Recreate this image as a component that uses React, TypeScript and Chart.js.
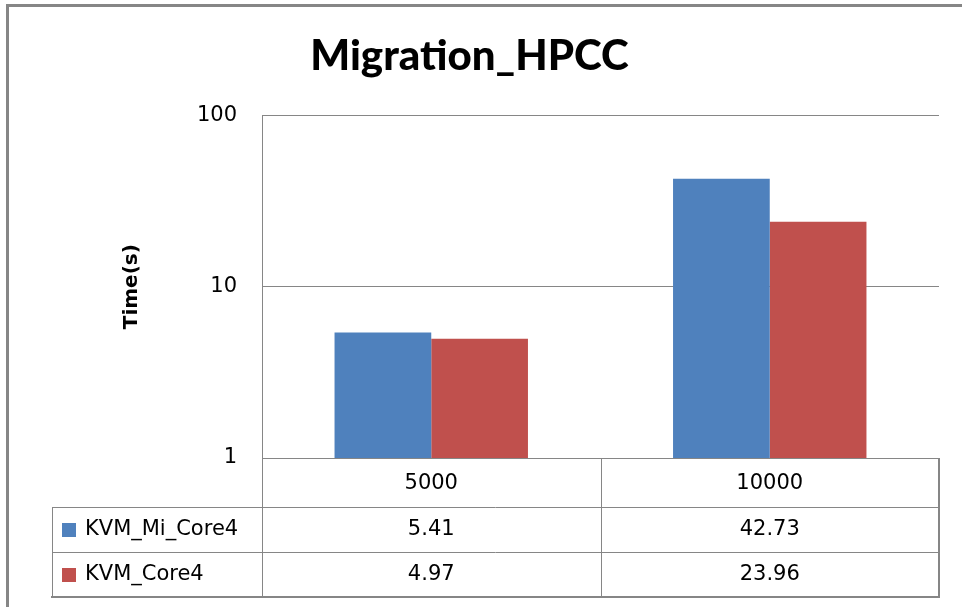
import React, { useEffect, useRef } from "react";
import { Chart, registerables } from "chart.js";

Chart.register(...registerables);

const title = "Migration_HPCC";
const yTitle = "Time(s)";
const categories = ["5000", "10000"];
const seriesNames = ["KVM_Mi_Core4", "KVM_Core4"];
const kvmMiCore4 = [5.41, 42.73];
const kvmCore4 = [4.97, 23.96];
const yTickValues = [1, 10, 100];
const seriesColors = ["#4F81BD", "#C0504D"];

const GRID = "#868686";
const TABLE_FONT = "21px 'DejaVu Sans'";

const framePlugin = {
  id: "frame",
  beforeDraw(chart: any) {
    const { ctx } = chart;
    ctx.save();
    ctx.fillStyle = "#ffffff";
    ctx.fillRect(0, 0, chart.width, chart.height);
    ctx.fillStyle = GRID;
    ctx.fillRect(6, 4, 3, chart.height - 4);
    ctx.fillRect(6, 4, chart.width - 6, 3);
    ctx.restore();
  },
};

const tablePlugin = {
  id: "dataTable",
  afterDraw(chart: any) {
    const { ctx, chartArea } = chart;
    const xs = chart.scales.x;
    const left = chartArea.left;
    const right = chartArea.right;
    const top = chartArea.bottom;
    const headerH = 49;
    const rowH = 45;
    const labelLeft = 52;
    const rows = [kvmMiCore4, kvmCore4];
    const bottom = top + headerH + rowH * rows.length;
    const half = (right - left) / categories.length / 2;

    ctx.save();
    ctx.strokeStyle = GRID;
    ctx.lineWidth = 1;
    const line = (x1: number, y1: number, x2: number, y2: number, w = 1) => {
      ctx.lineWidth = w;
      ctx.beginPath();
      ctx.moveTo(x1, y1);
      ctx.lineTo(x2, y2);
      ctx.stroke();
    };
    line(left, top + 0.5, right, top + 0.5);
    categories.forEach((_, i) => {
      const c = xs.getPixelForValue(i);
      line(Math.round(c - half) + 0.5, top, Math.round(c - half) + 0.5, bottom);
    });
    line(Math.round(right), top, Math.round(right), bottom + 1, 2);
    for (let r = 0; r < rows.length; r++) {
      const y = Math.round(top + headerH + rowH * r) + 0.5;
      line(labelLeft, y, right, y);
    }
    line(labelLeft - 1, bottom, right + 1, bottom, 2);
    line(labelLeft + 0.5, top + headerH, labelLeft + 0.5, bottom);

    ctx.fillStyle = "#000";
    ctx.font = TABLE_FONT;
    ctx.textBaseline = "middle";
    ctx.textAlign = "center";
    categories.forEach((cat, i) => {
      const c = xs.getPixelForValue(i);
      ctx.fillText(cat, c, top + headerH / 2 + 1);
    });
    rows.forEach((vals, r) => {
      const yc = top + headerH + rowH * r + rowH / 2;
      vals.forEach((v, i) => {
        const c = xs.getPixelForValue(i);
        ctx.textAlign = "center";
        ctx.fillStyle = "#000";
        ctx.fillText(v.toFixed(2), c, yc);
      });
      ctx.fillStyle = seriesColors[r];
      ctx.fillRect(labelLeft + 10, Math.round(yc - 7), 14, 14);
      ctx.fillStyle = "#000";
      ctx.textAlign = "left";
      ctx.fillText(seriesNames[r], labelLeft + 33, yc);
    });
    ctx.restore();
  },
};

export default function App() {
  const ref = useRef<HTMLCanvasElement | null>(null);

  useEffect(() => {
    document.body.style.margin = "0";
    const canvas = ref.current;
    if (!canvas) return;
    const chart = new Chart(canvas, {
      type: "bar",
      data: {
        labels: categories,
        datasets: [
          {
            label: seriesNames[0],
            data: kvmMiCore4,
            backgroundColor: seriesColors[0],
            categoryPercentage: 0.5714,
            barPercentage: 1,
          },
          {
            label: seriesNames[1],
            data: kvmCore4,
            backgroundColor: seriesColors[1],
            categoryPercentage: 0.5714,
            barPercentage: 1,
          },
        ],
      },
      options: {
        animation: false,
        responsive: false,
        maintainAspectRatio: false,
        layout: { padding: { left: 0, right: 23, top: 0, bottom: 149 } },
        plugins: {
          legend: { display: false },
          tooltip: { enabled: false },
          title: {
            display: true,
            text: title,
            color: "#000",
            font: { family: "Lato", size: 42, weight: "900" },
            padding: { top: 31, bottom: 34 },
          },
        },
        scales: {
          x: {
            display: false,
            grid: { display: false },
          },
          y: {
            type: "logarithmic",
            min: 1,
            max: 100,
            afterBuildTicks(scale: any) {
              scale.ticks = yTickValues.map((v) => ({ value: v }));
            },
            afterFit(scale: any) {
              scale.width = 262;
            },
            ticks: {
              color: "#000",
              font: { family: "DejaVu Sans", size: 21 },
              padding: 25,
              callback: (v: any) => String(v),
            },
            grid: { color: GRID, drawTicks: false, lineWidth: 1 },
            border: { color: GRID, width: 1 },
            title: {
              display: true,
              text: yTitle,
              color: "#000",
              font: { family: "DejaVu Sans", size: 20, weight: "bold" },
              padding: { top: 120, bottom: 0 },
            },
          },
        },
      },
      plugins: [framePlugin, tablePlugin],
    });
    return () => chart.destroy();
  }, []);

  return (
    <div style={{ position: "absolute", left: 0, top: 0, width: 962, height: 607 }}>
      <canvas ref={ref} width={962} height={607} style={{ width: 962, height: 607, display: "block" }} />
    </div>
  );
}
